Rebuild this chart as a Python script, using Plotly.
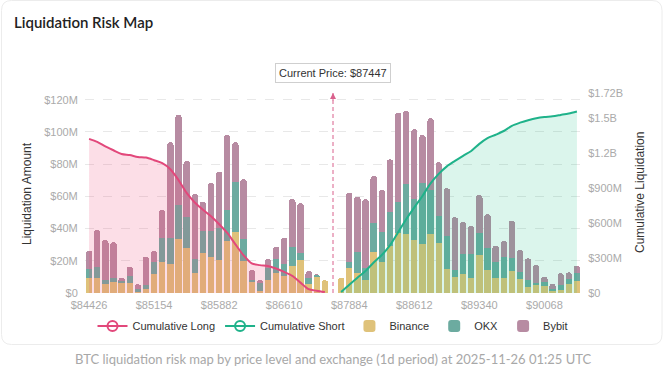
import plotly.graph_objects as go

# ---------------- data (values in $M) ----------------
price_levels = [
    "$84426", "$84517", "$84608", "$84699", "$84790", "$84881", "$84972", "$85063",
    "$85154", "$85245", "$85336", "$85427", "$85518", "$85609", "$85700", "$85791",
    "$85882", "$85973", "$86064", "$86155", "$86246", "$86337", "$86428", "$86519",
    "$86610", "$86701", "$86792", "$86883", "$86974", "$87065", "$87447", "$87793",
    "$87884", "$87975", "$88066", "$88157", "$88248", "$88339", "$88430", "$88521",
    "$88612", "$88703", "$88794", "$88885", "$88976", "$89067", "$89158", "$89249",
    "$89340", "$89431", "$89522", "$89613", "$89704", "$89795", "$89886", "$89977",
    "$90068", "$90159", "$90250", "$90341", "$90432",
]
tick_labels = ["$84426", "$85154", "$85882", "$86610", "$87884", "$88612", "$89340", "$90068"]
current_price = "$87447"

binance = [9.1, 9.5, 5.8, 6.6, 6.6, 6.2, 1.2, 2.7, 12.0, 19.0, 18.0, 33.3, 28.2, 12.6, 25.0, 22.6,
           20.5, 32.3, 38.1, 19.9, 7.0, 1.0, 8.1, 12.2, 10.6, 16.8, 20.5, 5.6, 10.5, 7.9, None,
           9.5, 15.3, 12.2, 8.1, 25.3, 19.5, 29.4, 37.1, 36.4, 32.9, 30.4, 36.6, 30.9, 14.9, 10.1,
           11.6, 9.5, 23.6, 14.3, 9.5, 9.5, 13.7, 8.7, 3.9, 5.0, 4.5, 1.4, 1.9, 5.6, 7.5]
okx = [6.0, 6.8, 2.3, 2.9, 1.1, 4.6, 1.1, 2.1, 7.0, 15.3, 16.3, 21.2, 18.8, 8.3, 13.5, 15.9,
       20.1, 19.2, 31.0, 13.4, 1.1, 5.0, 7.2, 8.9, 7.2, 12.0, 4.5, 3.9, 1.0, 0.0, None,
       0.0, 3.7, 13.1, 7.2, 18.0, 18.6, 21.1, 19.6, 31.3, 25.3, 38.1, 27.4, 16.9, 20.5, 4.2,
       12.6, 14.5, 13.9, 13.4, 10.0, 12.7, 7.8, 4.1, 4.2, 1.0, 2.5, 0.9, 3.1, 3.1, 4.7]
bybit = [11.2, 22.8, 24.8, 22.0, 1.8, 5.5, 3.1, 17.8, 7.1, 17.2, 59.3, 56.1, 35.0, 40.6, 18.2, 30.0,
         34.7, 46.6, 24.5, 37.3, 6.2, 2.1, 5.8, 7.7, 16.5, 29.6, 30.7, 4.2, 0.3, 0.0, None,
         0.0, 43.3, 34.5, 42.9, 29.4, 25.9, 32.5, 55.3, 45.3, 43.5, 29.6, 44.5, 33.4, 29.6, 32.7,
         19.9, 17.6, 23.4, 21.2, 9.9, 10.1, 23.4, 13.9, 13.4, 11.4, 3.1, 3.3, 7.2, 4.1, 4.8]

long_levels = price_levels[:30]
cumulative_long = [1325.8, 1299.5, 1260.4, 1227.5, 1196.0, 1186.5, 1170.2, 1164.8, 1142.2, 1116.1,
                   1064.6, 971.0, 860.4, 778.4, 716.9, 660.2, 591.7, 516.4, 418.3, 324.7,
                   254.1, 239.8, 231.7, 210.6, 181.8, 147.5, 89.1, 33.4, 19.7, 7.9]
short_levels = price_levels[31:]
cumulative_short = [9.5, 71.8, 131.6, 189.8, 262.5, 326.5, 409.5, 521.5, 634.5, 736.2,
                    834.3, 942.8, 1024.0, 1089.0, 1136.0, 1180.1, 1221.7, 1282.6, 1331.5, 1360.9,
                    1393.2, 1438.1, 1464.8, 1486.3, 1503.7, 1513.8, 1519.4, 1531.6, 1544.4, 1561.4]

left_ticks = [0, 20, 40, 60, 80, 100, 120]
left_tick_text = ["$0", "$20M", "$40M", "$60M", "$80M", "$100M", "$120M"]
right_ticks = [0, 300, 600, 900, 1200, 1500, 1720]
right_tick_text = ["$0", "$300M", "$600M", "$900M", "$1.2B", "$1.5B", "$1.72B"]

# ---------------- style ----------------
C_BIN = "#dfc27a"
C_OKX = "#6caba0"
C_BYB = "#b78ba2"
C_LONG = "#e2487b"
C_SHORT = "#1fb28a"
FONT = "Liberation Sans, Arial, sans-serif"

W, H = 666, 368
L, R, T, B = 85, 85, 93, 75
pw, ph = W - L - R, H - T - B

fig = go.Figure()

# legend-only entries for the lines (with hollow circle)
fig.add_trace(go.Scatter(x=[None], y=[None], name="Cumulative Long", mode="lines+markers",
                         line=dict(color=C_LONG, width=2),
                         marker=dict(symbol="circle-open", size=10, color=C_LONG, line=dict(width=2)),
                         yaxis="y2"))
fig.add_trace(go.Scatter(x=[None], y=[None], name="Cumulative Short", mode="lines+markers",
                         line=dict(color=C_SHORT, width=2),
                         marker=dict(symbol="circle-open", size=10, color=C_SHORT, line=dict(width=2)),
                         yaxis="y2"))

for name, vals, col in [("Binance", binance, C_BIN), ("OKX", okx, C_OKX), ("Bybit", bybit, C_BYB)]:
    fig.add_trace(go.Bar(x=price_levels, y=vals, name=name, marker=dict(color=col, line=dict(width=0)),
                         yaxis="y"))

fig.add_trace(go.Scatter(x=long_levels, y=cumulative_long, mode="lines", showlegend=False,
                         line=dict(color=C_LONG, width=2, shape="spline", smoothing=0.8),
                         fill="tozeroy", fillcolor="rgba(236,72,120,0.18)", yaxis="y2"))
fig.add_trace(go.Scatter(x=short_levels, y=cumulative_short, mode="lines", showlegend=False,
                         line=dict(color=C_SHORT, width=2, shape="spline", smoothing=0.8),
                         fill="tozeroy", fillcolor="rgba(16,185,129,0.15)", yaxis="y2"))

# card outline
def px_x(p):
    return (p - L) / pw

def px_y(p):
    return (H - B - p) / ph

x0, x1, y0, y1 = 1.5, 662, 0.5, 344.5
r = 10
path = (f"M {px_x(x0 + r)} {px_y(y0)} L {px_x(x1 - r)} {px_y(y0)} "
        f"Q {px_x(x1)} {px_y(y0)} {px_x(x1)} {px_y(y0 + r)} L {px_x(x1)} {px_y(y1 - r)} "
        f"Q {px_x(x1)} {px_y(y1)} {px_x(x1 - r)} {px_y(y1)} L {px_x(x0 + r)} {px_y(y1)} "
        f"Q {px_x(x0)} {px_y(y1)} {px_x(x0)} {px_y(y1 - r)} L {px_x(x0)} {px_y(y0 + r)} "
        f"Q {px_x(x0)} {px_y(y0)} {px_x(x0 + r)} {px_y(y0)} Z")
fig.add_shape(type="path", path=path, xref="paper", yref="paper",
              line=dict(color="#ececec", width=1), layer="below")

# current price marker line
fig.add_shape(type="line", xref="x", yref="paper", x0=current_price, x1=current_price, y0=0, y1=1,
              line=dict(color="#d9608c", width=1, dash="4px,3px"))
fig.add_annotation(x=current_price, xref="x", y=1, yref="paper", text="", showarrow=True,
                   arrowhead=2, arrowsize=1.2, arrowwidth=1, arrowcolor="#d9608c", ax=0, ay=9)
fig.add_annotation(x=current_price, xref="x", y=1, yref="paper", text="Current Price: " + current_price,
                   showarrow=False, yshift=20, yanchor="middle", xanchor="center",
                   font=dict(family=FONT, size=11, color="#333"),
                   bgcolor="white", bordercolor="#cfcfcf", borderwidth=1, borderpad=3)

# axis titles
fig.add_annotation(text="Liquidation Amount", xref="paper", yref="paper", x=px_x(27), y=px_y(194),
                   xanchor="center", yanchor="middle",
                   textangle=-90, showarrow=False, font=dict(family=FONT, size=12, color="#333"))
fig.add_annotation(text="Cumulative Liquidation", xref="paper", yref="paper", x=px_x(640), y=px_y(193),
                   xanchor="center", yanchor="middle",
                   textangle=-90, showarrow=False, font=dict(family=FONT, size=12, color="#333"))

# caption
fig.add_annotation(text="BTC liquidation risk map by price level and exchange (1d period) at 2025-11-26 01:25 UTC",
                   xref="paper", yref="paper", x=px_x(333), y=px_y(359), showarrow=False,
                   xanchor="center", yanchor="middle",
                   font=dict(family="Lato, sans-serif", size=13, color="#a8a8a8"))

fig.update_layout(
    width=W, height=H,
    margin=dict(l=L, r=R, t=T, b=B),
    paper_bgcolor="white", plot_bgcolor="white",
    title=dict(text="Liquidation Risk Map", x=14 / W, xanchor="left", xref="container",
               y=1 - 23 / H, yanchor="middle", yref="container",
               font=dict(family="Lato, sans-serif", size=15, color="#222", weight=600)),
    barmode="stack", bargap=0.22, barcornerradius=3,
    showlegend=True,
    legend=dict(orientation="h", x=0.5, xanchor="center", y=px_y(326), yanchor="middle",
                traceorder="normal",
                font=dict(family=FONT, size=11, color="#333"), bgcolor="rgba(0,0,0,0)",
                itemwidth=30, tracegroupgap=0),
    xaxis=dict(type="category", categoryorder="array", categoryarray=price_levels,
               tickmode="array", tickvals=tick_labels, ticktext=tick_labels,
               tickfont=dict(family=FONT, size=11, color="#aaa"),
               showgrid=False, showline=False, zeroline=False,
               ticks="outside", ticklen=2, tickcolor="rgba(0,0,0,0)"),
    yaxis=dict(range=[0, 124.2], tickmode="array", tickvals=left_ticks, ticktext=left_tick_text,
               tickfont=dict(family=FONT, size=11, color="#aaa"),
               showgrid=True, gridcolor="#e8e8e8", griddash="dash", gridwidth=1,
               zeroline=False, showline=False,
               ticks="outside", ticklen=4, tickcolor="rgba(0,0,0,0)"),
    yaxis2=dict(range=[0, 1720], overlaying="y", side="right", tickmode="array",
                tickvals=right_ticks, ticktext=right_tick_text,
                tickfont=dict(family=FONT, size=11, color="#aaa"),
                showgrid=False, zeroline=False, showline=False,
                ticks="outside", ticklen=4, tickcolor="rgba(0,0,0,0)"),
)

fig.write_html("out.html", config={"displayModeBar": False},
               post_script="document.body.style.margin='0';")
